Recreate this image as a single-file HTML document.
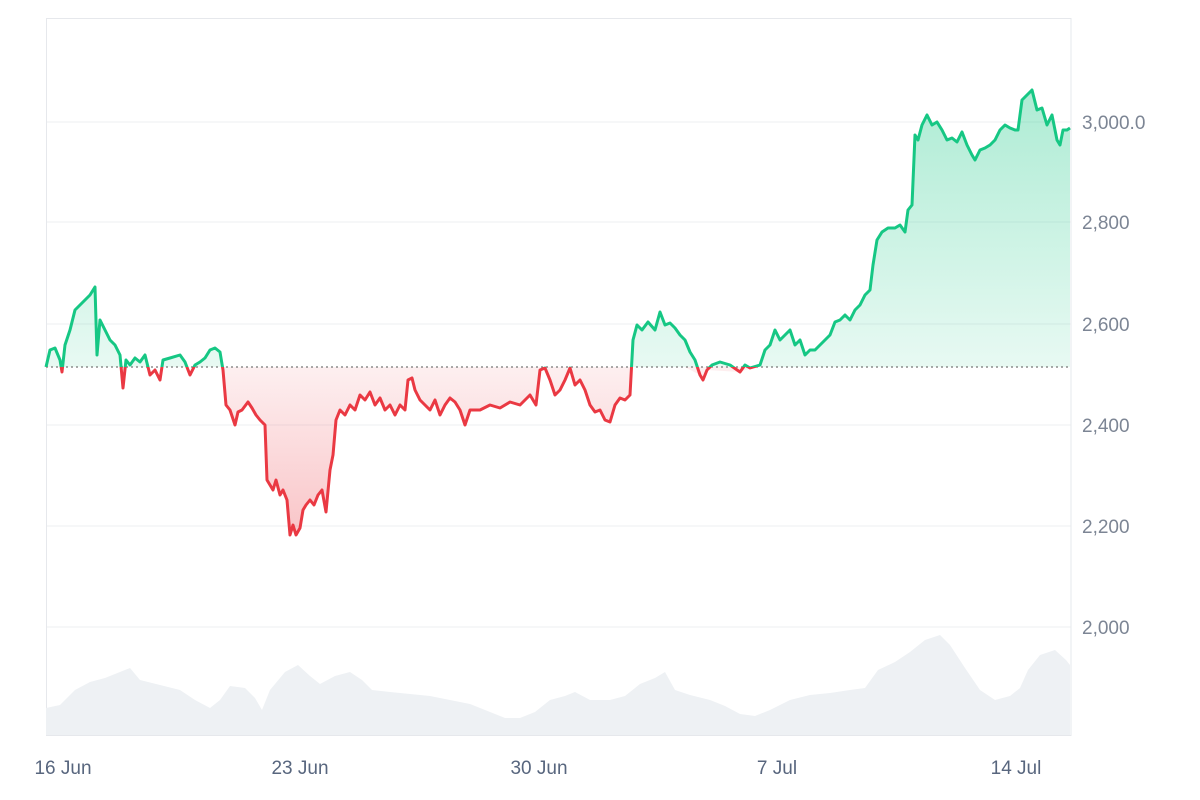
<!DOCTYPE html>
<html><head><meta charset="utf-8"><style>
html,body{margin:0;padding:0;background:#fff;width:1200px;height:800px;overflow:hidden}
text{font-family:"Liberation Sans",sans-serif}
</style></head><body>
<svg width="1200" height="800" viewBox="0 0 1200 800" xmlns="http://www.w3.org/2000/svg">
<defs>
<linearGradient id="gg" x1="0" y1="90" x2="0" y2="367" gradientUnits="userSpaceOnUse">
<stop offset="0" stop-color="#16c784" stop-opacity="0.35"/><stop offset="1" stop-color="#16c784" stop-opacity="0.1"/></linearGradient>
<linearGradient id="rg" x1="0" y1="367" x2="0" y2="540" gradientUnits="userSpaceOnUse">
<stop offset="0" stop-color="#ea3943" stop-opacity="0.08"/><stop offset="1" stop-color="#ea3943" stop-opacity="0.3"/></linearGradient>
<clipPath id="up"><rect x="0" y="0" width="1200" height="367"/></clipPath>
<clipPath id="dn"><rect x="0" y="367" width="1200" height="433"/></clipPath>
</defs>
<g stroke="#eeeff2" stroke-width="1">
<line x1="46" y1="122" x2="1071" y2="122"/><line x1="46" y1="222" x2="1071" y2="222"/>
<line x1="46" y1="324" x2="1071" y2="324"/><line x1="46" y1="425" x2="1071" y2="425"/>
<line x1="46" y1="526" x2="1071" y2="526"/><line x1="46" y1="627" x2="1071" y2="627"/>
</g>
<rect x="46.5" y="18.5" width="1024.5" height="717" fill="none" stroke="#e6e8ec"/>
<path fill="#eef1f4" d="M46,735 L46,708 L60,705 L75,690 L90,682 L105,678 L120,672 L130,668 L140,680 L160,685 L180,690 L195,700 L210,708 L220,700 L230,686 L245,688 L255,698 L262,710 L270,690 L285,672 L298,665 L310,676 L320,684 L335,676 L350,672 L362,680 L372,690 L390,692 L410,694 L430,696 L450,700 L470,704 L490,712 L505,718 L520,718 L535,712 L550,700 L565,696 L575,692 L590,700 L610,700 L625,696 L640,684 L655,678 L665,672 L675,690 L690,695 L710,700 L725,706 L740,714 L755,716 L770,710 L790,700 L810,695 L830,693 L850,690 L865,688 L878,670 L895,662 L910,652 L925,640 L940,635 L950,645 L965,668 L980,690 L995,700 L1010,696 L1020,688 L1028,670 L1040,655 L1055,650 L1066,660 L1070,665 L1070,735 Z"/>
<path id="ln" d="M46,367 L50,350 L55,348 L60,360 L62,372 L65,345 L70,330 L75,310 L80,305 L85,300 L90,295 L95,287 L97,355 L100,320 L105,330 L110,340 L115,345 L120,355 L123,388 L126,360 L130,365 L135,358 L140,362 L145,355 L150,375 L155,370 L160,380 L163,360 L170,358 L180,355 L185,362 L190,375 L195,365 L200,362 L205,358 L210,350 L215,348 L220,352 L223,370 L226,405 L230,410 L235,425 L238,412 L242,410 L248,402 L252,408 L256,415 L260,420 L265,425 L267,480 L270,485 L273,490 L276,480 L280,495 L283,490 L287,500 L290,535 L293,525 L296,535 L300,528 L303,510 L306,505 L310,500 L314,505 L318,495 L322,490 L326,512 L330,470 L333,455 L336,420 L340,410 L345,415 L350,405 L355,410 L360,395 L365,400 L370,392 L375,405 L380,398 L385,410 L390,405 L395,415 L400,405 L405,410 L408,380 L412,378 L415,390 L420,400 L425,405 L430,410 L435,400 L440,415 L445,405 L450,398 L455,402 L460,410 L465,425 L470,410 L480,410 L490,405 L500,408 L510,402 L520,405 L530,395 L536,405 L540,370 L545,368 L550,380 L555,395 L560,390 L565,380 L570,368 L575,385 L580,380 L585,390 L590,405 L595,412 L600,410 L605,420 L610,422 L615,405 L620,398 L625,400 L630,395 L633,340 L637,325 L642,330 L648,322 L655,330 L660,312 L665,325 L670,323 L675,328 L680,335 L685,340 L690,352 L695,360 L700,375 L703,380 L707,370 L712,365 L720,362 L730,365 L740,372 L745,365 L750,368 L760,365 L765,350 L770,345 L775,330 L780,340 L785,335 L790,330 L795,345 L800,340 L805,355 L810,350 L815,350 L820,345 L825,340 L830,335 L835,322 L840,320 L845,315 L850,320 L855,310 L860,305 L865,295 L870,290 L873,265 L877,240 L882,232 L888,228 L895,228 L900,225 L905,232 L908,210 L912,205 L915,135 L918,140 L922,125 L927,115 L932,125 L937,122 L942,130 L947,140 L952,138 L957,142 L962,132 L967,145 L972,155 L975,160 L980,150 L985,148 L990,145 L995,140 L1000,130 L1005,125 L1010,128 L1015,130 L1018,130 L1022,100 L1027,95 L1032,90 L1037,110 L1042,108 L1047,125 L1052,115 L1057,140 L1060,145 L1063,130 L1067,130 L1070,128" fill="none"/>
<path clip-path="url(#up)" fill="url(#gg)" d="M46,367 L50,350 L55,348 L60,360 L62,372 L65,345 L70,330 L75,310 L80,305 L85,300 L90,295 L95,287 L97,355 L100,320 L105,330 L110,340 L115,345 L120,355 L123,388 L126,360 L130,365 L135,358 L140,362 L145,355 L150,375 L155,370 L160,380 L163,360 L170,358 L180,355 L185,362 L190,375 L195,365 L200,362 L205,358 L210,350 L215,348 L220,352 L223,370 L540,370 L545,368 L565,380 L570,368 L575,385 L630,395 L633,340 L637,325 L642,330 L648,322 L655,330 L660,312 L665,325 L670,323 L675,328 L680,335 L685,340 L690,352 L695,360 L700,375 L703,380 L707,370 L712,365 L720,362 L730,365 L740,372 L745,365 L750,368 L760,365 L765,350 L770,345 L775,330 L780,340 L785,335 L790,330 L795,345 L800,340 L805,355 L810,350 L815,350 L820,345 L825,340 L830,335 L835,322 L840,320 L845,315 L850,320 L855,310 L860,305 L865,295 L870,290 L873,265 L877,240 L882,232 L888,228 L895,228 L900,225 L905,232 L908,210 L912,205 L915,135 L918,140 L922,125 L927,115 L932,125 L937,122 L942,130 L947,140 L952,138 L957,142 L962,132 L967,145 L972,155 L975,160 L980,150 L985,148 L990,145 L995,140 L1000,130 L1005,125 L1010,128 L1015,130 L1018,130 L1022,100 L1027,95 L1032,90 L1037,110 L1042,108 L1047,125 L1052,115 L1057,140 L1060,145 L1063,130 L1067,130 L1070,128 L1070,367 Z"/>
<path clip-path="url(#dn)" fill="url(#rg)" d="M120,355 L123,388 L126,360 L220,352 L223,370 L226,405 L230,410 L235,425 L238,412 L242,410 L248,402 L252,408 L256,415 L260,420 L265,425 L267,480 L270,485 L273,490 L276,480 L280,495 L283,490 L287,500 L290,535 L293,525 L296,535 L300,528 L303,510 L306,505 L310,500 L314,505 L318,495 L322,490 L326,512 L330,470 L333,455 L336,420 L340,410 L345,415 L350,405 L355,410 L360,395 L365,400 L370,392 L375,405 L380,398 L385,410 L390,405 L395,415 L400,405 L405,410 L408,380 L412,378 L415,390 L420,400 L425,405 L430,410 L435,400 L440,415 L445,405 L450,398 L455,402 L460,410 L465,425 L470,410 L480,410 L490,405 L500,408 L510,402 L520,405 L530,395 L536,405 L540,370 L545,368 L550,380 L555,395 L560,390 L565,380 L570,368 L575,385 L580,380 L585,390 L590,405 L595,412 L600,410 L605,420 L610,422 L615,405 L620,398 L625,400 L630,395 L633,340 L700,375 L703,380 L707,370 L740,372 L760,365 L760,367 L46,367 Z"/>
<line x1="46" y1="367" x2="1071" y2="367" stroke="#777" stroke-width="1.2" stroke-dasharray="2,3"/>
<use href="#ln" clip-path="url(#up)" stroke="#16c784" stroke-width="3" stroke-linejoin="round"/>
<use href="#ln" clip-path="url(#dn)" stroke="#ea3943" stroke-width="3" stroke-linejoin="round"/>
<g font-size="19" fill="#7c8594">
<text x="1082" y="129">3,000.0</text><text x="1082" y="229">2,800</text>
<text x="1082" y="331">2,600</text><text x="1082" y="432">2,400</text>
<text x="1082" y="533">2,200</text><text x="1082" y="634">2,000</text>
</g>
<g font-size="19" fill="#58667e" text-anchor="middle">
<text x="63" y="774">16 Jun</text><text x="300" y="774">23 Jun</text>
<text x="539" y="774">30 Jun</text><text x="777" y="774">7 Jul</text><text x="1016" y="774">14 Jul</text>
</g>
</svg>
</body></html>
